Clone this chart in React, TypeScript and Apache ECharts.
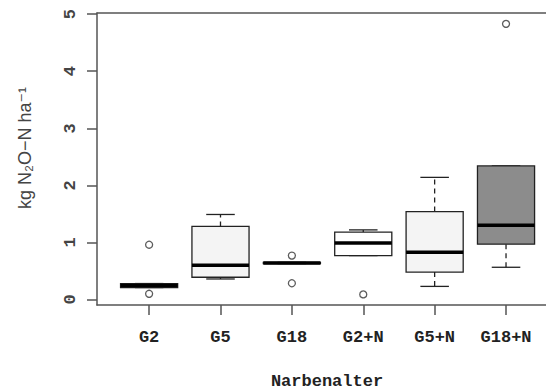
import React, { useEffect, useRef } from "react";
import * as echarts from "echarts";

const categories = ["G2", "G5", "G18", "G2+N", "G5+N", "G18+N"];
const whiskerLow = [0.21, 0.36, 0.63, 0.77, 0.23, 0.565];
const q1 = [0.21, 0.39, 0.63, 0.77, 0.48, 0.97];
const median = [0.245, 0.6, 0.64, 0.99, 0.83, 1.3];
const q3 = [0.28, 1.28, 0.65, 1.18, 1.54, 2.34];
const whiskerHigh = [0.28, 1.49, 0.65, 1.22, 2.14, 2.34];
const outlierCat = [1, 1, 3, 3, 4, 6];
const outlierVal = [0.96, 0.1, 0.77, 0.285, 0.09, 4.83];
const yTicks = [0, 1, 2, 3, 4, 5];
const xTicks = [1, 2, 3, 4, 5, 6];
const boxFills = ["#f4f4f4", "#f4f4f4", "#f4f4f4", "#ffffff", "#f4f4f4", "#8c8c8c"];

const MONO = "'Liberation Mono', 'DejaVu Sans Mono', monospace";
const SANS = "'Liberation Sans', 'DejaVu Sans', sans-serif";

export default function App() {
  const ref = useRef<HTMLDivElement>(null);
  useEffect(() => {
    if (!ref.current) return;
    const chart = echarts.init(ref.current, undefined, { renderer: "svg" });
    const boxData = categories.map((_, i) => [
      i + 1,
      whiskerLow[i],
      q1[i],
      median[i],
      q3[i],
      whiskerHigh[i],
    ]);
    const outData = outlierCat.map((c, i) => [c, outlierVal[i]]);
    const axisColor = "#555";
    const xMin = 0.27;
    const xMax = 6.56;
    chart.setOption({
      animation: false,
      grid: { left: 97, right: 0, top: 13, bottom: 85 },
      xAxis: [
        {
          type: "value",
          position: "bottom",
          min: xMin,
          max: xMax,
          axisLine: { show: true, onZero: false, lineStyle: { color: axisColor, width: 1.5 } },
          axisTick: {
            show: true,
            customValues: xTicks,
            length: 10,
            lineStyle: { color: axisColor, width: 1.5 },
          },
          axisLabel: {
            customValues: xTicks,
            formatter: (v: number) => categories[Math.round(v) - 1] ?? "",
            fontFamily: MONO,
            fontWeight: "bold",
            fontSize: 17,
            color: "#222",
            margin: 24,
          },
          splitLine: { show: false },
        },
        {
          type: "value",
          position: "top",
          min: xMin,
          max: xMax,
          axisLine: { show: true, onZero: false, lineStyle: { color: axisColor, width: 1.5 } },
          axisTick: { show: false },
          axisLabel: { show: false },
          splitLine: { show: false },
        },
      ],
      yAxis: {
        type: "value",
        min: -0.096,
        max: 5.02,
        axisLine: { show: true, onZero: false, lineStyle: { color: axisColor, width: 1.5 } },
        axisTick: {
          show: true,
          customValues: yTicks,
          length: 10,
          lineStyle: { color: axisColor, width: 1.5 },
        },
        axisLabel: {
          customValues: yTicks,
          rotate: 90,
          fontFamily: MONO,
          fontWeight: "bold",
          fontSize: 17,
          color: "#444",
          margin: 18,
        },
        splitLine: { show: false },
      },
      graphic: [
        {
          type: "text",
          x: 25,
          y: 148,
          rotation: Math.PI / 2,
          style: {
            text: "kg N₂O−N ha⁻¹",
            fontFamily: SANS,
            fontSize: 18,
            fill: "#444",
            align: "center",
            verticalAlign: "middle",
          },
        },
        {
          type: "text",
          x: 327,
          y: 381,
          style: {
            text: "Narbenalter",
            fontFamily: MONO,
            fontWeight: "bold",
            fontSize: 17,
            fill: "#222",
            align: "center",
            verticalAlign: "middle",
          },
        },
      ],
      series: [
        {
          type: "custom",
          xAxisIndex: 0,
          data: boxData,
          encode: { x: 0, y: [1, 2, 3, 4, 5] },
          renderItem: (params: any, api: any) => {
            const x = api.value(0);
            const lo = api.value(1);
            const a = api.value(2);
            const m = api.value(3);
            const b = api.value(4);
            const hi = api.value(5);
            const w = api.size([0.8, 0])[0];
            const cw = w / 2;
            const pLo = api.coord([x, lo]);
            const pA = api.coord([x, a]);
            const pM = api.coord([x, m]);
            const pB = api.coord([x, b]);
            const pHi = api.coord([x, hi]);
            const cx = pM[0];
            const stroke = "#222";
            const children: any[] = [];
            const dash = { stroke, lineWidth: 1.3, lineDash: [5, 4] };
            if (pHi[1] < pB[1] - 0.5) {
              children.push({
                type: "line",
                shape: { x1: cx, y1: pB[1], x2: cx, y2: pHi[1] },
                style: dash,
              });
            }
            if (pLo[1] > pA[1] + 0.5) {
              children.push({
                type: "line",
                shape: { x1: cx, y1: pA[1], x2: cx, y2: pLo[1] },
                style: dash,
              });
            }
            children.push({
              type: "line",
              shape: { x1: cx - cw / 2, y1: pHi[1], x2: cx + cw / 2, y2: pHi[1] },
              style: { stroke, lineWidth: 1.3 },
            });
            children.push({
              type: "line",
              shape: { x1: cx - cw / 2, y1: pLo[1], x2: cx + cw / 2, y2: pLo[1] },
              style: { stroke, lineWidth: 1.3 },
            });
            children.push({
              type: "rect",
              shape: { x: cx - w / 2, y: pB[1], width: w, height: pA[1] - pB[1] },
              style: { fill: boxFills[params.dataIndex], stroke, lineWidth: 1.3 },
            });
            children.push({
              type: "line",
              shape: { x1: cx - w / 2, y1: pM[1], x2: cx + w / 2, y2: pM[1] },
              style: { stroke: "#000", lineWidth: 3.5 },
            });
            return { type: "group", children };
          },
          z: 2,
        },
        {
          type: "scatter",
          xAxisIndex: 0,
          data: outData,
          symbol: "circle",
          symbolSize: 7,
          itemStyle: { color: "rgba(0,0,0,0)", borderColor: "#333", borderWidth: 1.3 },
          z: 3,
        },
      ],
    });
    return () => chart.dispose();
  }, []);
  return (
    <div
      ref={ref}
      style={{ position: "fixed", left: 0, top: 0, width: 546, height: 390, background: "#fff" }}
    />
  );
}
